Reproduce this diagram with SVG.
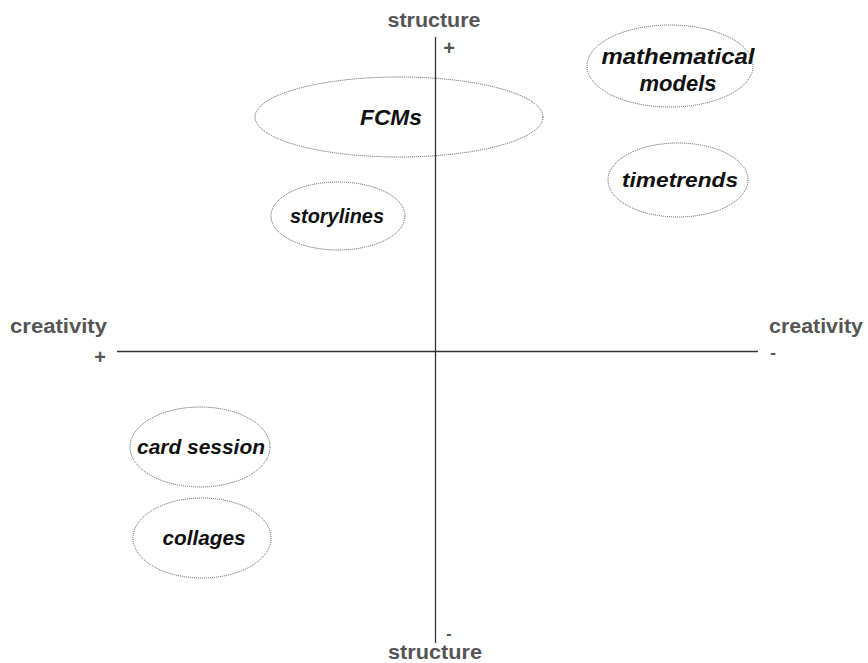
<svg xmlns="http://www.w3.org/2000/svg" width="868" height="663" viewBox="0 0 868 663">
  <style>
    .axis { stroke: #333; stroke-width: 1.3; fill: none; }
    .axlabel { font-family: "Liberation Sans", Arial, sans-serif; font-weight: bold; fill: #555; }
    .node ellipse { fill: #fff; stroke: #555; stroke-width: 1; stroke-dasharray: 1 1; }
    .node text { font-family: "Liberation Sans", Arial, sans-serif; font-weight: bold; font-style: italic; fill: #111; text-anchor: middle; }
  </style>
  <rect width="868" height="663" fill="#fff"/>

  <!-- FCMs ellipse sits behind the vertical axis -->
  <g id="fcms" class="node">
    <ellipse cx="399" cy="117" rx="144" ry="40"/>
  </g>

  <!-- axes -->
  <g id="axes">
    <line class="axis" x1="435.5" y1="37" x2="435.5" y2="643"/>
    <line class="axis" x1="117" y1="351.5" x2="758" y2="351.5"/>
  </g>

  <g id="fcms-label" class="node">
    <text x="391" y="125" font-size="22" textLength="62" lengthAdjust="spacingAndGlyphs">FCMs</text>
  </g>

  <g id="math-models" class="node">
    <ellipse cx="670" cy="66" rx="83" ry="41"/>
    <text x="678" y="64" font-size="22" textLength="153" lengthAdjust="spacingAndGlyphs">mathematical</text>
    <text x="678" y="91" font-size="22">models</text>
  </g>

  <g id="timetrends" class="node">
    <ellipse cx="678" cy="180" rx="70" ry="37"/>
    <text x="680" y="187" font-size="21" textLength="116" lengthAdjust="spacingAndGlyphs">timetrends</text>
  </g>

  <g id="storylines" class="node">
    <ellipse cx="338" cy="216" rx="67" ry="34"/>
    <text x="337" y="223" font-size="20" textLength="94" lengthAdjust="spacingAndGlyphs">storylines</text>
  </g>

  <g id="card-session" class="node">
    <ellipse cx="200" cy="447" rx="70" ry="40"/>
    <text x="201" y="454" font-size="20" textLength="128" lengthAdjust="spacingAndGlyphs">card session</text>
  </g>

  <g id="collages" class="node">
    <ellipse cx="202" cy="538" rx="69" ry="40"/>
    <text x="204" y="545" font-size="20" textLength="83" lengthAdjust="spacingAndGlyphs">collages</text>
  </g>

  <!-- axis labels -->
  <g id="axis-labels" class="axlabel">
    <text x="434" y="27" font-size="20" text-anchor="middle" textLength="93" lengthAdjust="spacingAndGlyphs">structure</text>
    <text x="449" y="55" font-size="20" text-anchor="middle">+</text>
    <text x="10" y="333" font-size="20" textLength="97" lengthAdjust="spacingAndGlyphs">creativity</text>
    <text x="100" y="364" font-size="20" text-anchor="middle">+</text>
    <text x="769" y="333" font-size="20" textLength="94" lengthAdjust="spacingAndGlyphs">creativity</text>
    <text x="773" y="358" font-size="17" text-anchor="middle">-</text>
    <text x="449" y="639" font-size="16" text-anchor="middle">-</text>
    <text x="435" y="659" font-size="20" text-anchor="middle" textLength="94" lengthAdjust="spacingAndGlyphs">structure</text>
  </g>
</svg>
